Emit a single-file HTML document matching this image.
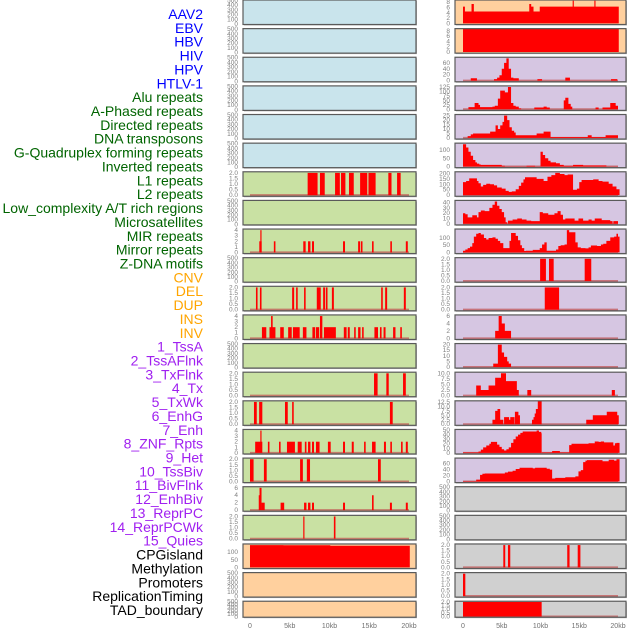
<!DOCTYPE html>
<html><head><meta charset="utf-8"><style>
html,body{margin:0;padding:0;background:#fff;}
svg{display:block;font-family:"Liberation Sans",sans-serif;}
</style></head><body>
<svg id="chart" width="630" height="630" viewBox="0 0 630 630" xmlns="http://www.w3.org/2000/svg"></svg>
<script>
const trackLabels = ["AAV2","EBV","HBV","HIV","HPV","HTLV-1","Alu repeats","A-Phased repeats","Directed repeats","DNA transposons","G-Quadruplex forming repeats","Inverted repeats","L1 repeats","L2 repeats","Low_complexity A/T rich regions","Microsatellites","MIR repeats","Mirror repeats","Z-DNA motifs","CNV","DEL","DUP","INS","INV","1_TssA","2_TssAFlnk","3_TxFlnk","4_Tx","5_TxWk","6_EnhG","7_Enh","8_ZNF_Rpts","9_Het","10_TssBiv","11_BivFlnk","12_EnhBiv","13_ReprPC","14_ReprPCWk","15_Quies","CPGisland","Methylation","Promoters","ReplicationTiming","TAD_boundary"];
const labelColors = ["#0000ff","#0000ff","#0000ff","#0000ff","#0000ff","#0000ff","#006400","#006400","#006400","#006400","#006400","#006400","#006400","#006400","#006400","#006400","#006400","#006400","#006400","#ffa500","#ffa500","#ffa500","#ffa500","#ffa500","#a020f0","#a020f0","#a020f0","#a020f0","#a020f0","#a020f0","#a020f0","#a020f0","#a020f0","#a020f0","#a020f0","#a020f0","#a020f0","#a020f0","#a020f0","#000","#000","#000","#000","#000"];
const xTicks = [0,5,10,15,20];
const xTickLabels = ["0","5kb","10kb","15kb","20kb"];
const emptyTicks = [0,100,200,300,400,500];
const ticks2 = [0,0.5,1,1.5,2];
const ticks4 = [0,1,2,3,4];
// sparse bars: [startKb, endKb, value]
const l1Bars = [[7.25,8.5,2],[8.8,9.4,2],[10.7,11.3,2],[11.45,12.0,2],[12.45,13.05,2],[13.85,14.75,2],[14.9,15.8,2],[17.4,17.8,2],[18.5,18.95,2]];
const lowCompBars = [[1.17,1.47,2],[1.3,1.45,4],[3.0,3.2,2],[6.7,7.0,2],[7.3,7.6,2],[7.8,8.05,2],[11.7,11.95,2],[13.6,13.85,2],[13.95,14.15,2],[15.35,15.55,2],[17.65,17.85,2],[19.6,19.85,2]];
const mirBars = [[0.75,0.95,2],[1.25,1.45,2],[5.3,5.55,2],[5.8,6.0,2],[6.8,7.0,2],[8.4,8.9,2],[9.2,9.45,2],[9.55,9.75,2],[10.3,10.55,2],[16.5,16.7,2],[17.0,17.25,2],[19.35,19.6,2]];
const zdnaBars = [[1.5,2.05,2],[2.45,3.2,2],[2.65,2.85,4],[3.8,4.25,2],[4.8,5.25,2],[5.4,6.25,2],[6.65,7.1,2],[7.85,8.2,2],[8.3,8.7,2],[8.8,9.1,4],[9.3,10.8,2],[11.8,12.15,2],[12.3,12.55,2],[13.1,13.3,2],[13.6,13.9,2],[14.1,14.3,2],[15.65,16.1,2],[16.35,16.55,2],[16.8,17.05,2],[18.0,18.3,2],[18.9,19.1,2]];
const delBars = [[15.6,16.05,2],[17.15,17.45,2],[19.25,19.6,2]];
const insBars = [[0.5,0.85,2],[1.15,1.55,2],[4.4,4.75,2],[5.3,5.5,2],[17.6,17.95,2]];
const tssABars = [[0.65,1.55,2],[1.3,1.45,4],[2.25,2.45,2],[3.65,3.85,2],[4.65,5.65,2],[6.0,6.5,2],[6.9,7.1,2],[7.3,7.6,2],[7.8,8.05,2],[8.3,8.75,2],[9.8,10.15,2],[11.7,11.95,2],[12.8,13.05,2],[14.35,14.55,2],[15.35,15.8,2],[16.85,17.1,2],[17.65,17.85,2],[19.0,19.2,2],[19.6,19.85,2]];
const txFlnkBars = [[0,0.45,2],[1.75,2.1,2],[6.3,6.65,2],[7.15,7.55,2],[16.1,16.45,2]];
const txWkBars = [[1.1,1.25,4],[1.2,1.45,6],[1.45,1.85,2],[3.85,4.3,2],[6.8,7.1,2],[7.3,7.6,2],[7.8,8.05,2],[11.7,11.95,2],[15.35,15.55,4],[17.6,17.85,2],[19.6,19.85,2]];
const enhGBars = [[6.7,6.85,2],[10.55,10.75,2]];
const inbBars = [[9.95,10.7,2],[11.1,11.7,2],[15.7,16.55,2]];
const inb2Bars = [[10.55,12.4,2]];
const cpgRBars = [[5.2,5.45,2],[5.8,6.1,2],[13.45,13.75,2],[14.8,15.15,2]];
const promRBars = [[0,0.3,2]];
const tadRBars = [[0,10.15,2]];
// step histograms: [startKb, value]
const cpgSteps = [[0,147],[4.2,146],[10.1,143],[20.1,0]];
const aavSteps = [[0,6.3],[0.25,4.5],[1.1,7.3],[1.4,4.5],[8.55,7.3],[8.8,6.3],[9.1,4.5],[9.9,6.3],[14.15,8.6],[14.3,6.3],[16.95,8.6],[17.1,6.3],[20.1,0]];
const ebvSteps = [[0,9],[20.1,0]];
const hivSteps = [[1.0,8],[1.8,0],[4.0,5],[4.4,10],[4.7,18],[5.0,40],[5.3,60],[5.6,75],[5.9,40],[6.2,10],[6.5,8],[7.2,0],[9.6,5],[10.2,0],[13.2,10],[13.8,0],[19.1,5],[19.9,0]];
const hpvSteps = [[0.7,12],[1.5,35],[2.0,25],[2.2,12],[3.8,15],[4.1,20],[4.5,60],[4.8,105],[5.4,95],[5.8,125],[6.2,35],[6.5,20],[6.8,15],[7.2,5],[7.5,0],[9.2,10],[10.4,15],[10.8,10],[11.2,0],[13.0,50],[13.2,65],[13.6,30],[13.9,15],[14.1,0],[17.1,10],[17.5,0],[18.0,10],[19.0,35],[19.7,20],[20.0,0]];
const r4Steps = [[0.6,2],[1.0,4],[1.3,5],[3.5,7],[4.2,14],[4.5,10],[4.8,14],[5.1,18],[5.3,25],[5.7,20],[6.0,12],[6.3,8],[6.6,6],[6.8,3],[9.5,5],[10.4,7],[11.3,1],[16.1,3],[16.6,1],[18.4,3],[20.0,0]];
const r5Steps = [[0,135],[0.4,115],[0.7,90],[1.0,65],[1.3,40],[1.6,25],[1.8,18],[2.1,12],[2.3,10],[5.0,5],[5.4,1],[8.2,5],[9.3,1],[10.0,90],[10.3,70],[10.6,50],[11.0,35],[11.3,25],[12.0,20],[12.5,10],[13.0,5],[14.2,10],[15.5,7],[18.5,1],[20.0,0]];
const r6Steps = [[0,120],[0.4,130],[0.8,155],[1.8,130],[2.0,110],[2.3,80],[2.6,95],[3.0,105],[3.5,100],[4.0,90],[4.4,70],[5.0,60],[5.5,40],[5.9,30],[6.3,35],[6.8,55],[7.2,85],[7.5,115],[7.8,145],[8.0,165],[9.5,150],[10.4,130],[10.9,170],[11.4,185],[11.9,205],[12.5,195],[13.1,185],[13.5,190],[14.2,50],[14.7,60],[15.0,120],[15.3,140],[16.8,145],[17.5,130],[18.0,125],[18.8,105],[19.3,80],[19.8,55],[20.2,0]];
const r7Steps = [[0,20],[0.3,18],[0.6,12],[1.2,16],[1.8,12],[2.0,22],[2.3,25],[2.8,24],[3.4,30],[3.8,36],[4.1,42],[4.4,34],[4.7,28],[5.0,22],[5.3,12],[5.5,3],[5.7,0],[5.8,6],[6.4,8],[7.0,10],[7.6,8],[8.2,6],[8.8,5],[9.9,22],[10.3,20],[11.0,17],[11.8,20],[12.2,24],[12.6,17],[12.9,8],[13.2,10],[14.4,6],[14.9,10],[15.5,6],[16.2,8],[16.6,6],[17.0,10],[17.9,7],[19.0,5],[19.3,0],[19.4,5],[20.0,0]];
const r8Steps = [[0,12],[0.3,20],[0.6,30],[0.9,40],[1.2,65],[1.4,110],[1.7,130],[2.0,135],[2.3,125],[2.7,100],[3.0,90],[3.3,100],[3.8,105],[4.2,95],[4.5,80],[4.8,65],[5.2,30],[6.0,80],[6.2,135],[6.8,115],[7.1,85],[7.4,50],[7.6,30],[7.9,10],[8.1,12],[9.0,18],[9.9,30],[10.2,55],[10.5,70],[10.8,12],[12.0,20],[12.3,45],[12.6,50],[13.1,55],[13.4,155],[13.7,140],[14.5,70],[14.8,35],[15.2,30],[15.8,28],[16.2,35],[16.5,48],[17.3,45],[17.8,55],[18.1,60],[18.5,80],[19.0,105],[19.5,110],[19.8,130],[20.0,110],[20.2,0]];
const r11Steps = [[4.15,2],[4.6,6],[5.0,4],[5.4,2],[6.2,0]];
const r12Steps = [[3.9,3],[4.5,20],[5.0,13],[5.3,9],[5.7,5],[5.9,3],[6.2,0]];
const r13Steps = [[1.7,4.5],[2.3,2.5],[3.3,4.5],[4.15,8],[4.9,10],[5.55,6.5],[6.95,2.5],[7.2,0],[8.3,2.5],[8.8,0],[19.2,2.5],[19.6,0]];
const r14Steps = [[3.8,2.5],[4.15,7.5],[4.45,8.5],[4.8,2.5],[5.2,0],[5.3,4],[5.95,2.5],[6.1,4],[6.65,0],[6.7,7],[7.15,5],[7.35,0],[8.9,2.5],[9.1,4],[9.25,6],[9.4,8.5],[9.65,13],[10.15,0],[15.9,2.5],[16.75,5],[18.55,7],[19.9,5],[20.1,0]];
const r15Steps = [[0,1],[2.0,3],[2.3,7],[2.6,12],[3.0,16],[3.4,20],[3.6,24],[4.4,18],[4.7,13],[5.0,8],[5.3,5],[5.6,8],[5.9,12],[6.2,22],[6.5,30],[6.8,36],[7.1,40],[7.4,44],[7.7,47],[9.5,49],[9.8,46],[10.1,43],[10.15,0],[10.2,1],[11.5,4],[12.5,1],[13.7,17],[14.0,20],[16.2,21],[17.0,25],[17.5,24],[17.8,25],[18.2,23],[19.4,16],[19.6,21],[19.8,22],[20.2,0]];
const r16Steps = [[0,1],[1.7,6],[2.2,22],[2.5,26],[2.8,27],[5.4,30],[5.8,33],[6.4,36],[6.8,42],[7.3,46],[9.0,44],[9.3,46],[10.8,43],[11.2,40],[11.5,10],[11.9,12],[13.2,14],[14.5,17],[14.9,34],[15.2,38],[15.5,65],[15.8,70],[16.0,72],[18.0,68],[18.8,73],[19.5,70],[19.8,75],[20.2,0]];

const BLUE="#c9e4ec",PEACH="#ffd09e",PURP="#d6c6e2",GREEN="#c9e1a3",GREY="#d0d0d0";
const leftPanels = [
 {bg:BLUE},{bg:BLUE},{bg:BLUE},{bg:BLUE},{bg:BLUE},{bg:BLUE},
 {bg:GREEN,bars:l1Bars,ticks:ticks2,fmt:1,top:2},
 {bg:GREEN},
 {bg:GREEN,bars:lowCompBars,ticks:ticks4,top:4},
 {bg:GREEN},
 {bg:GREEN,bars:mirBars,ticks:ticks2,fmt:1,top:2},
 {bg:GREEN,bars:zdnaBars,ticks:ticks4,top:4},
 {bg:GREEN},
 {bg:GREEN,bars:delBars,ticks:ticks2,fmt:1,top:2},
 {bg:GREEN,bars:insBars,ticks:ticks2,fmt:1,top:2},
 {bg:GREEN,bars:tssABars,ticks:ticks4,top:4},
 {bg:GREEN,bars:txFlnkBars,ticks:ticks2,fmt:1,top:2},
 {bg:GREEN,bars:txWkBars,ticks:[0,2,4,6],top:6},
 {bg:GREEN,bars:enhGBars,ticks:ticks2,fmt:1,top:2},
 {bg:PEACH,steps:cpgSteps,ticks:[0,50,100],top:147,nobase:1},
 {bg:PEACH},{bg:PEACH}
];
const rightPanels = [
 {bg:PEACH,steps:aavSteps,ticks:[0,2,4,6,8],top:8.4,nobase:1},
 {bg:PEACH,steps:ebvSteps,ticks:[0,2,4,6,8],top:8.4,nobase:1},
 {bg:PURP,steps:hivSteps,ticks:[0,20,40,60],top:75},
 {bg:PURP,steps:hpvSteps,ticks:[0,25,50,75,100,125],top:125},
 {bg:PURP,steps:r4Steps,ticks:[0,5,10,15,20,25],top:25},
 {bg:PURP,steps:r5Steps,ticks:[0,50,100],top:135},
 {bg:PURP,steps:r6Steps,ticks:[0,50,100,150,200],top:205},
 {bg:PURP,steps:r7Steps,ticks:[0,10,20,30,40],top:42},
 {bg:PURP,steps:r8Steps,ticks:[0,50,100],top:155},
 {bg:PURP,bars:inbBars,ticks:ticks2,fmt:1,top:2},
 {bg:PURP,bars:inb2Bars,ticks:ticks2,fmt:1,top:2},
 {bg:PURP,steps:r11Steps,ticks:[0,2,4,6],top:6},
 {bg:PURP,steps:r12Steps,ticks:[0,5,10,15,20],top:20},
 {bg:PURP,steps:r13Steps,ticks:[0,2.5,5,7.5,10],fmt:1,top:10},
 {bg:PURP,steps:r14Steps,ticks:[0,2.5,5,7.5,10,12.5],fmt:1,top:12.5},
 {bg:PURP,steps:r15Steps,ticks:[0,10,20,30,40,50],top:49},
 {bg:PURP,steps:r16Steps,ticks:[0,20,40,60],top:75},
 {bg:GREY},{bg:GREY},
 {bg:GREY,bars:cpgRBars,ticks:ticks2,fmt:1,top:2},
 {bg:GREY,bars:promRBars,ticks:ticks2,fmt:1,top:2},
 {bg:GREY,bars:tadRBars,ticks:ticks2,fmt:1,top:2}
];

const NS="http://www.w3.org/2000/svg";
const svg=document.getElementById('chart');
function mk(tag,attrs,parent){const e=document.createElementNS(NS,tag);for(const k in attrs)e.setAttribute(k,attrs[k]);(parent||svg).appendChild(e);return e;}

// labels
trackLabels.forEach((t,i)=>{
  const e=mk('text',{x:203,y:(14+i*13.86+5).toFixed(1),'text-anchor':'end','font-size':'14',fill:labelColors[i]});
  e.textContent=t;
  
  
});

const cols=[{x0:243,x1:416,z:250,k20:409,tx:238,panels:leftPanels,name:'left'},{x0:455,x1:626,z:463,k20:618,tx:450,panels:rightPanels,name:'right'}];
function rowTop(r){return r*28.63;}
function rowH(r){return r===21?16:24.5;}

cols.forEach(c=>{
  const xs=kb=>c.z+(c.k20-c.z)*kb/20;
  c.panels.forEach((p,r)=>{
    const top=rowTop(r),h=rowH(r),bot=top+h;
    const g=mk('g',{});
    
    
    mk('rect',{x:c.x0+1,y:top+1,width:c.x1-c.x0,height:h,fill:'#bbb'},g);
    mk('rect',{x:c.x0,y:top,width:c.x1-c.x0,height:h,fill:p.bg},g);
    const empty=!p.bars&&!p.steps;
    let ticks,dmin,dmax;
    if(empty){ticks=emptyTicks;dmin=-10;dmax=510;}
    else{ticks=p.ticks;dmin=-0.05*p.top;dmax=1.05*p.top;}
    const ys=v=>bot-(Math.min(v,dmax)-dmin)/(dmax-dmin)*h;
    const clipId='clip-'+c.name+r;
    const cp=mk('clipPath',{id:clipId},g);
    mk('rect',{x:c.x0,y:top,width:c.x1-c.x0,height:h},cp);
    const inner=mk('g',{'clip-path':'url(#'+clipId+')'},g);
    if(!empty&&!p.nobase){
      const bl=mk('line',{x1:xs(0),x2:xs(20),y1:ys(0),y2:ys(0),stroke:'#c05050','stroke-width':2,'stroke-opacity':0.7},inner);
      
      
    }
    if(p.bars){
      p.bars.forEach(b=>{
        const e=mk('rect',{x:xs(b[0]),y:ys(b[2]),width:Math.max(xs(b[1])-xs(b[0]),1),height:ys(0)-ys(b[2]),fill:'#ff0000'},inner);
        
        
      });
    }
    if(p.steps){
      let d='';
      const s=p.steps;
      d+='M'+xs(s[0][0]).toFixed(2)+','+ys(0).toFixed(2);
      for(let i=0;i<s.length;i++){
        const x=xs(s[i][0]).toFixed(2);
        const prevV=i>0?s[i-1][1]:0;
        d+='L'+x+','+ys(prevV).toFixed(2)+'L'+x+','+ys(s[i][1]).toFixed(2);
      }
      d+='Z';
      const e=mk('path',{d:d,fill:'#ff0000'},inner);
      
      
    }
    mk('rect',{x:c.x0,y:top,width:c.x1-c.x0,height:h,fill:'none',stroke:'#5a5a5a','stroke-width':1.2},g);
    ticks.forEach(t=>{
      const e=mk('text',{x:c.tx,y:(ys(t)+2).toFixed(1),'text-anchor':'end','font-size':'6.5',fill:'#808080'},g);
      e.textContent=p.fmt?t.toFixed(1):String(t);
      
      
    });
  });
  xTicks.forEach((t,i)=>{
    const e=mk('text',{x:xs(t),y:628,'text-anchor':'middle','font-size':'7',fill:'#707070'});
    e.textContent=xTickLabels[i];
    
    
  });
});
</script>
</body></html>
